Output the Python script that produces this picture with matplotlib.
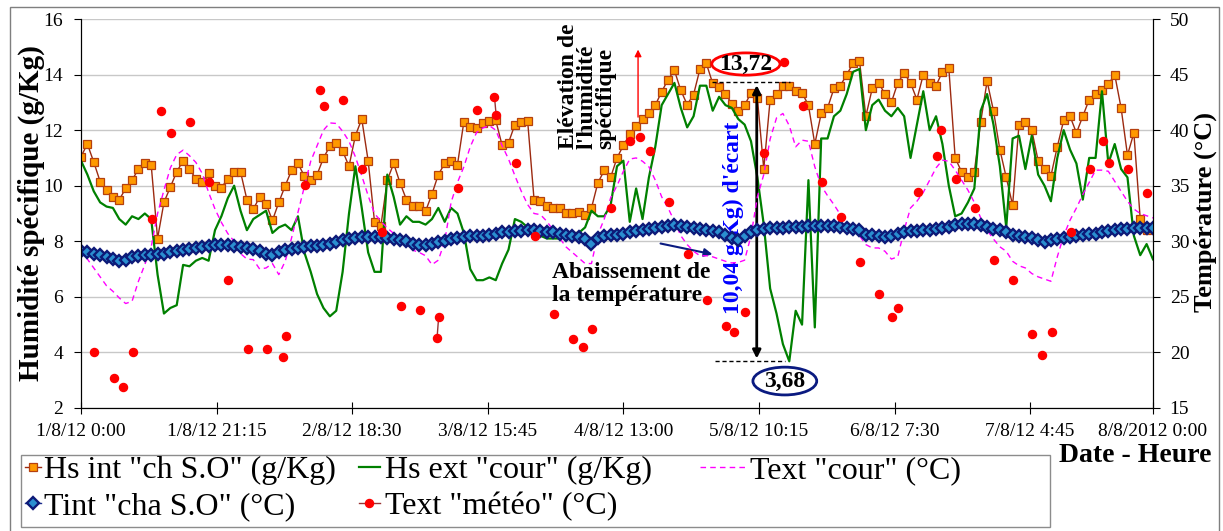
import numpy as np
import matplotlib
matplotlib.use("Agg")
import matplotlib.pyplot as plt
from matplotlib.patches import Rectangle, Ellipse

plt.rcParams['font.family'] = ['Liberation Serif', 'DejaVu Serif']

# hourly readings from 1/8/12 0:00 to 8/8/12 0:00
hs_int = [11.05, 11.5, 10.85, 10.15, 9.85, 9.6, 9.5, 9.9, 10.2, 10.6,
          10.8, 10.75, 8.1, 9.4, 9.95, 10.5, 10.9, 10.6, 10.25, 10.15,
          10.45, 10.0, 9.93, 10.25, 10.5, 10.5, 9.5, 9.15, 9.6, 9.35,
          8.75, 9.4, 10.0, 10.55, 10.8, 10.35, 10.2, 10.4, 11.0, 11.42,
          11.54, 11.25, 10.7, 11.8, 12.4, 10.9, 8.7, 8.56, 10.2, 10.8,
          10.1, 9.5, 9.26, 9.26, 9.08, 9.7, 10.4, 10.8, 10.88, 10.76,
          12.3, 12.12, 12.08, 12.26, 12.34, 12.35, 11.45, 11.55, 12.2, 12.3,
          12.32, 9.5, 9.45, 9.26, 9.2, 9.2, 9.02, 9.03, 9.05, 8.93,
          9.2, 10.1, 10.55, 10.3, 11.0, 11.45, 11.85, 12.16, 12.4, 12.63,
          12.9, 13.38, 13.82, 14.15, 13.43, 12.92, 13.28, 14.2, 14.4, 13.68,
          13.55, 13.3, 12.95, 12.7, 12.9, 13.34, 13.15, 10.6, 13.1, 13.3,
          13.6, 13.6, 13.42, 13.34, 12.9, 11.5, 12.6, 12.8, 13.5, 13.6,
          14.0, 14.4, 14.5, 12.5, 13.5, 13.7, 13.3, 13.0, 13.7, 14.05,
          13.7, 13.1, 14.0, 13.7, 13.6, 14.1, 14.24, 11.0, 10.5, 10.3,
          10.5, 12.3, 13.76, 12.7, 11.3, 10.3, 9.3, 12.2, 12.3, 12.0,
          10.9, 10.6, 10.35, 11.4, 12.35, 12.5, 11.9, 12.5, 13.1, 13.3,
          13.45, 13.65, 14.0, 12.8, 11.1, 11.9, 8.8, 8.4, 8.5]

hs_ext = [10.9, 10.4, 9.8, 9.4, 9.25, 9.2, 8.8, 8.6, 8.9, 8.8,
          9.0, 8.8, 6.8, 5.4, 5.6, 5.7, 7.15, 7.1, 7.3, 7.4,
          7.3, 8.4, 8.9, 9.55, 10.0, 9.1, 8.4, 8.8, 8.95, 9.1,
          8.3, 8.5, 8.6, 8.4, 8.9, 7.6, 6.9, 6.1, 5.6, 5.3,
          5.5, 6.9, 9.0, 10.7, 9.2, 7.6, 6.9, 6.9, 10.4, 9.6,
          8.6, 8.9, 8.7, 8.7, 8.6, 8.8, 9.2, 8.7, 9.2, 9.0,
          8.3, 7.0, 6.6, 6.6, 6.7, 6.6, 7.2, 7.7, 8.8, 8.7,
          8.5, 8.3, 8.2, 8.1, 8.1, 8.1, 8.2, 8.3, 8.3, 8.5,
          9.1, 8.9, 8.9, 9.3, 10.7, 10.9, 8.7, 9.9, 8.8, 10.3,
          11.4, 12.9, 13.3, 13.7, 12.8, 12.1, 12.5, 13.6, 13.6, 12.7,
          13.2, 12.9, 12.8, 12.4, 12.2, 11.6, 10.3, 8.6, 6.3, 5.4,
          4.3, 3.68, 5.5, 5.0, 10.2, 4.9, 11.7, 11.7, 12.5, 12.7,
          13.3, 14.1, 14.2, 12.0, 12.9, 13.1, 12.7, 12.5, 12.8, 12.5,
          11.0, 12.2, 13.4, 12.0, 12.5, 11.5, 10.0, 8.9, 9.0, 9.4,
          9.9, 12.7, 13.3, 12.2, 10.7, 8.5, 11.7, 11.8, 10.6, 11.8,
          10.4, 10.0, 9.44, 11.0, 12.0, 11.3, 10.8, 9.5, 11.0, 11.0,
          13.4, 10.8, 11.5, 10.6, 10.3, 8.2, 7.5, 7.9, 7.35]

t_cour = [29.25, 28.4, 27.6, 26.8, 26.0, 25.5, 24.9, 24.4, 24.6, 26.4,
          27.9, 29.5, 32.5, 34.6, 36.6, 37.8, 38.2, 37.7, 37.1, 36.1,
          34.4, 32.9, 31.7, 30.7, 30.0, 28.9, 28.4, 28.35, 27.5, 27.6,
          28.0, 27.0, 28.2, 30.3, 32.6, 34.9, 37.2, 38.6, 40.0, 40.65,
          40.6, 39.9, 39.0, 37.6, 35.9, 34.1, 32.5, 31.8, 31.2, 30.7,
          30.2, 29.7, 29.2, 29.0, 28.7, 27.9, 28.3, 30.0, 33.5, 35.3,
          36.7, 38.5, 39.8, 40.2, 40.4, 40.0, 38.6, 37.4, 35.9, 34.5,
          33.3, 32.5, 32.4, 31.8, 31.0, 30.3, 29.5, 29.0, 28.5, 28.0,
          28.0, 30.6, 32.0, 33.9, 35.0, 36.3, 37.4, 37.5, 37.2, 36.7,
          35.5, 34.0, 33.0, 31.8, 30.5, 29.7, 29.1, 28.7, 28.7, 28.6,
          28.4, 28.2, 28.05, 28.1, 28.3, 30.5, 34.0, 36.0, 39.2, 41.1,
          41.5, 40.4, 38.5, 39.1, 39.0, 36.7, 35.0, 34.1, 33.3, 32.4,
          31.6, 31.1, 30.5, 29.7, 29.4, 29.4, 29.1, 28.4, 28.6, 31.0,
          33.0, 33.6, 34.4, 35.5, 36.6, 37.3, 37.2, 36.4, 35.5, 34.6,
          33.5, 32.1, 31.0, 30.2, 29.5, 29.1, 28.2, 27.8, 27.6, 27.1,
          26.8, 26.6, 26.4, 28.6, 30.5, 31.9, 33.0, 34.2, 35.3, 36.4,
          36.4, 36.3, 35.4, 34.5, 33.6, 32.9, 32.5, 32.3, 32.1]

t_int = [29.1, 29.0, 28.9, 28.8, 28.6, 28.4, 28.2, 28.3, 28.6, 28.7,
         28.8, 28.8, 28.9, 28.9, 29.0, 29.1, 29.2, 29.3, 29.4, 29.5,
         29.6, 29.7, 29.7, 29.7, 29.6, 29.5, 29.4, 29.3, 29.1, 28.9,
         28.8, 29.0, 29.2, 29.3, 29.4, 29.5, 29.6, 29.6, 29.7, 29.8,
         29.9, 30.1, 30.2, 30.3, 30.4, 30.4, 30.4, 30.4, 30.3, 30.2,
         30.1, 30.0, 29.8, 29.7, 29.7, 29.8, 29.9, 30.0, 30.2, 30.3,
         30.4, 30.45, 30.45, 30.5, 30.6, 30.7, 30.8, 30.8, 30.9, 30.9,
         31.0, 31.0, 30.9, 30.8, 30.8, 30.7, 30.6, 30.5, 30.4, 30.2,
         29.8, 30.3, 30.5, 30.6, 30.6, 30.7, 30.8, 30.9, 31.0, 31.1,
         31.2, 31.3, 31.4, 31.5, 31.4, 31.3, 31.2, 31.1, 31.0, 30.9,
         30.8, 30.6, 30.3, 30.1, 30.5, 30.8, 31.0, 31.1, 31.2, 31.2,
         31.2, 31.3, 31.3, 31.3, 31.4, 31.4, 31.4, 31.4, 31.4, 31.3,
         31.2, 31.1, 31.0, 30.6, 30.6, 30.5, 30.4, 30.5, 30.7, 30.8,
         30.9, 30.9, 31.0, 31.0, 31.1, 31.2, 31.3, 31.5, 31.6, 31.6,
         31.6, 31.5, 31.3, 31.1, 31.0, 30.8, 30.6, 30.5, 30.4, 30.3,
         30.1, 29.9, 30.1, 30.2, 30.3, 30.4, 30.5, 30.6, 30.7, 30.7,
         30.8, 30.9, 31.0, 31.1, 31.1, 31.2, 31.2, 31.2, 31.2]

# weather station readings (hour since start, degC)
meteo_h = [2.1, 5.1, 6.6, 8.1, 11.1, 12.6, 14.1, 17.1, 20.1, 23.1,
           26.1, 29.1, 31.6, 32.1, 35.1, 37.4, 38.1, 41.1, 44.1, 47.1,
           50.1, 53.1, 55.8, 56.05, 59.1, 62.1, 64.8, 65.05, 68.1, 71.1,
           74.1, 77.1, 78.6, 80.1, 83.1, 86.1, 87.6, 89.1, 92.1, 95.1,
           98.1, 101.1, 102.3, 104.1, 107.1, 110.1, 113.1, 116.1, 119.1, 122.1,
           125.1, 127.1, 128.1, 131.1, 134.1, 134.8, 137.1, 140.1, 143.1, 146.1,
           149.1, 150.6, 152.1, 155.1, 158.1, 160.1, 161.1, 164.1, 167.1]
meteo_t = [20.0, 17.7, 16.9, 20.0, 32.0, 41.7, 39.7, 40.7, 35.3, 26.5,
           20.3, 20.3, 19.6, 21.5, 35.1, 43.6, 42.2, 42.7, 36.5, 30.8,
           24.2, 23.8, 21.3, 23.2, 34.8, 41.8, 43.0, 41.4, 37.0, 30.5,
           23.5, 21.2, 20.5, 22.1, 33.0, 39.0, 39.4, 38.1, 33.5, 28.9,
           24.7, 22.4, 21.8, 23.6, 37.9, 46.1, 42.2, 35.3, 32.2, 28.1,
           25.3, 23.2, 24.0, 34.4, 37.7, 40.0, 35.6, 33.0, 28.3, 26.5,
           21.7, 19.8, 21.8, 30.8, 36.5, 39.0, 37.0, 36.5, 34.3]

tick_pos = [0, 21.25, 42.5, 63.75, 85, 106.25, 127.5, 148.75, 168]
tick_labels = ["1/8/12 0:00", "1/8/12 21:15", "2/8/12 18:30", "3/8/12 15:45",
               "4/8/12 13:00", "5/8/12 10:15", "6/8/12 7:30", "7/8/12 4:45",
               "8/8/2012 0:00"]

ecart_haut = 13.72
ecart_bas = 3.68

hours = np.arange(len(hs_int))

W, H = 1223, 531
fig = plt.figure(figsize=(W / 100, H / 100), dpi=100)
ax = fig.add_axes([81 / W, 1 - 408 / H, (1153 - 81) / W, (408 - 19) / H])
ax2 = ax.twinx()

l_int, = ax.plot(hours, hs_int, color='#9c2a10', lw=1, marker='s', ms=6,
                 mfc='#ff9900', mec='#b5400f', mew=0.9, zorder=3)
l_ext, = ax.plot(hours, hs_ext, color='#008000', lw=1.6, zorder=4)

l_cour, = ax2.plot(hours, t_cour, color='#ff00ff', lw=1, ls=(0, (4, 3)))
l_tint, = ax2.plot(hours, t_int, color='#1f2f8f', lw=1, marker='D', ms=6.5,
                   mfc='#2a8fd0', mec='#0d1a78', mew=1.7)
mh = np.array(meteo_h)
mt = np.array(meteo_t)
breaks = np.where(np.diff(mh) > 0.3)[0] + 1
for gh, gt in zip(np.split(mh, breaks), np.split(mt, breaks)):
    l_met, = ax2.plot(gh, gt, color='#993333', lw=1, marker='o', ms=5.8,
                      mfc='#ff0000', mec='#ff0000')

ax.set_xlim(0, 168)
ax.set_ylim(2, 16)
ax2.set_ylim(15, 50)
ax.set_yticks(range(2, 17, 2))
ax2.set_yticks(range(15, 51, 5))
ax.set_xticks(tick_pos)
ax.set_xticklabels(tick_labels)
ax.grid(axis='y', color='#c8c8c8', lw=1)
ax.set_axisbelow(True)
for a in (ax, ax2):
    a.spines['top'].set_visible(False)
    for s in ('left', 'right', 'bottom'):
        a.spines[s].set_color('black')
ax.tick_params(axis='y', direction='out', length=5, labelsize=14, pad=8)
ax2.tick_params(axis='y', direction='out', length=5, labelsize=14, pad=7)
ax.tick_params(axis='x', direction='inout', length=9, labelsize=14, pad=6)

fig.text(31 / W, 1 - 213 / H, "Humidité spécifique (g/Kg)", rotation=90,
         ha='center', va='center', fontsize=21, fontweight='bold')
fig.text(1205 / W, 1 - 212 / H, "Température (°C)", rotation=90,
         ha='center', va='center', fontsize=19, fontweight='bold')
fig.text(1135 / W, 1 - 455 / H, "Date - Heure", ha='center', va='center',
         fontsize=20, fontweight='bold')

# annotations
ax.text(79.3, 11.32, "Elévation de\nl'humidité\nspécifique", rotation=90,
        ha='center', va='bottom', multialignment='left', linespacing=0.85,
        fontsize=17, fontweight='bold', zorder=6)
ax.annotate('', xy=(87.3, 15.0), xytext=(87.3, 12.37),
            arrowprops=dict(arrowstyle='-|>', color='red', lw=1, mutation_scale=10))
ax.text(73.8, 7.25, "Abaissement de\nla température", ha='left', va='top',
        linespacing=1.1, fontsize=17, fontweight='bold', zorder=6)
ax.annotate('', xy=(99.4, 7.51), xytext=(90.4, 7.94),
            arrowprops=dict(arrowstyle='-|>', color='#0a1a80', lw=1.5, mutation_scale=12))
ax.text(102.2, 8.84, "10,04 g/Kg) d'écart", rotation=90, ha='center', va='center',
        color='#0000ff', fontsize=17, fontweight='bold', zorder=6)
ax.hlines(ecart_haut, 98.9, 111.1, colors='black', linestyles=(0, (3, 2)), lw=1, zorder=6)
ax.hlines(ecart_bas, 99.4, 110.3, colors='black', linestyles=(0, (3, 2)), lw=1, zorder=6)
ax.annotate('', xy=(105.9, ecart_bas), xytext=(105.9, ecart_haut),
            arrowprops=dict(arrowstyle='<|-|>', color='black', lw=2, mutation_scale=12),
            zorder=6)
ax.add_patch(Ellipse((104.2, 14.38), 10.7, 0.8, fc='white', ec='#ff0000', lw=2, zorder=6))
ax.text(104.2, 14.38, f"{ecart_haut:.2f}".replace('.', ','), ha='center', va='center',
        fontsize=17, fontweight='bold', zorder=7)
ax.add_patch(Ellipse((110.3, 2.97), 10.0, 1.0, fc='white', ec='#0a1a80', lw=2, zorder=6))
ax.text(110.3, 2.97, f"{ecart_bas:.2f}".replace('.', ','), ha='center', va='center',
        fontsize=17, fontweight='bold', zorder=7)

# legend in three columns
leg_kw = dict(loc='upper left', frameon=False, fontsize=23,
              borderpad=0, borderaxespad=0, labelspacing=0.2)
fig.legend([l_int, l_tint], ['Hs int "ch S.O" (g/Kg)', 'Tint "cha S.O" (°C)'],
           bbox_to_anchor=(25 / W, 1 - 456 / H), handlelength=0.5,
           handletextpad=0.1, **leg_kw)
fig.legend([l_ext, l_met], ['Hs ext "cour" (g/Kg)', 'Text "météo" (°C)'],
           bbox_to_anchor=(359 / W, 1 - 456 / H), handlelength=0.65,
           handletextpad=0.15, **leg_kw)
fig.legend([l_cour], ['Text "cour" (°C)'],
           bbox_to_anchor=(700 / W, 1 - 456 / H), handlelength=1.4,
           handletextpad=0.15, **leg_kw)

fig.add_artist(Rectangle((21 / W, 1 - 527 / H), (1050 - 21) / W, (527 - 455) / H,
                         transform=fig.transFigure, fill=False, ec='#8c8c8c', lw=1))
fig.add_artist(Rectangle((10 / W, -0.02), (1219 - 10) / W, 1 - 7 / H + 0.02,
                         transform=fig.transFigure, fill=False, ec='#7f7f7f', lw=1))

fig.savefig('out.png', dpi=100)
